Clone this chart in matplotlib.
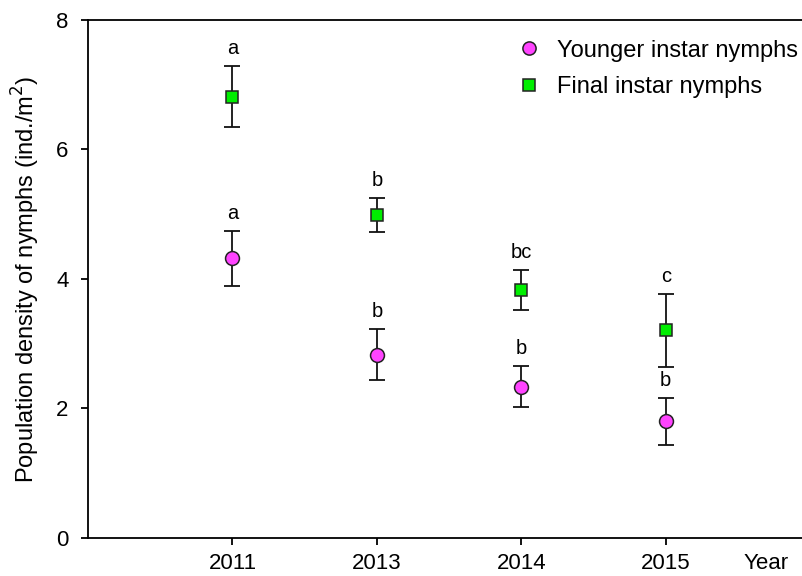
import matplotlib.pyplot as plt

plt.rcParams['font.family'] = ['Liberation Sans', 'DejaVu Sans']

years = ['2011', '2013', '2014', '2015']
pos = [1, 2, 3, 4]

# younger instar nymphs: mean and error bar limits
young_mean = [4.32, 2.83, 2.33, 1.81]
young_hi = [4.74, 3.23, 2.66, 2.16]
young_lo = [3.89, 2.44, 2.02, 1.44]
young_grp = ['a', 'b', 'b', 'b']

# final instar nymphs
final_mean = [6.81, 4.99, 3.83, 3.21]
final_hi = [7.29, 5.25, 4.14, 3.77]
final_lo = [6.35, 4.73, 3.52, 2.64]
final_grp = ['a', 'b', 'bc', 'c']

fig = plt.figure(figsize=(8.03, 5.76), dpi=100)
ax = fig.add_axes([0.1096, 0.066, 0.8904, 0.8994])

def draw(mean, hi, lo, grp, marker, color, ms, label):
    yerr = [[m - l for m, l in zip(mean, lo)], [h - m for m, h in zip(mean, hi)]]
    ax.errorbar(pos, mean, yerr=yerr, fmt='none', ecolor='#111111', elinewidth=1.3,
                capsize=5.8, capthick=1.3, zorder=2)
    ax.plot(pos, mean, linestyle='none', marker=marker, markersize=ms,
            markerfacecolor=color, markeredgecolor='#222222', markeredgewidth=1.1,
            label=label, zorder=3)
    for x, h, g in zip(pos, hi, grp):
        ax.text(x, h + 0.12, g, ha='center', va='bottom', fontsize=14.5)

draw(young_mean, young_hi, young_lo, young_grp, 'o', '#ff44ff', 10, 'Younger instar nymphs')
draw(final_mean, final_hi, final_lo, final_grp, 's', '#00ee00', 8.5, 'Final instar nymphs')

ax.set_xlim(0, 4.95)
ax.set_ylim(0, 8)
ax.set_xticks(pos)
ax.set_xticklabels(years)
ax.set_yticks([0, 2, 4, 6, 8])
ax.tick_params(direction='out', length=5, width=1.3, labelsize=16, pad=9)
ax.tick_params(axis='x', pad=6)
for s in ['left', 'bottom', 'top']:
    ax.spines[s].set_linewidth(1.3)
ax.spines['right'].set_visible(False)
ax.set_ylabel('Population density of nymphs (ind./m$^2$)', fontsize=17, labelpad=10)
ax.annotate('Year', xy=(0.949, 0), xycoords='axes fraction', xytext=(0, -11),
            textcoords='offset points', ha='center', va='top', fontsize=16)

ax.legend(loc='upper right', frameon=False, fontsize=17, handletextpad=0.5,
          borderaxespad=0.0, labelspacing=0.6, markerscale=0.95,
          handlelength=1.4, bbox_to_anchor=(1.006, 0.98))

fig.savefig('out.png', dpi=100)
